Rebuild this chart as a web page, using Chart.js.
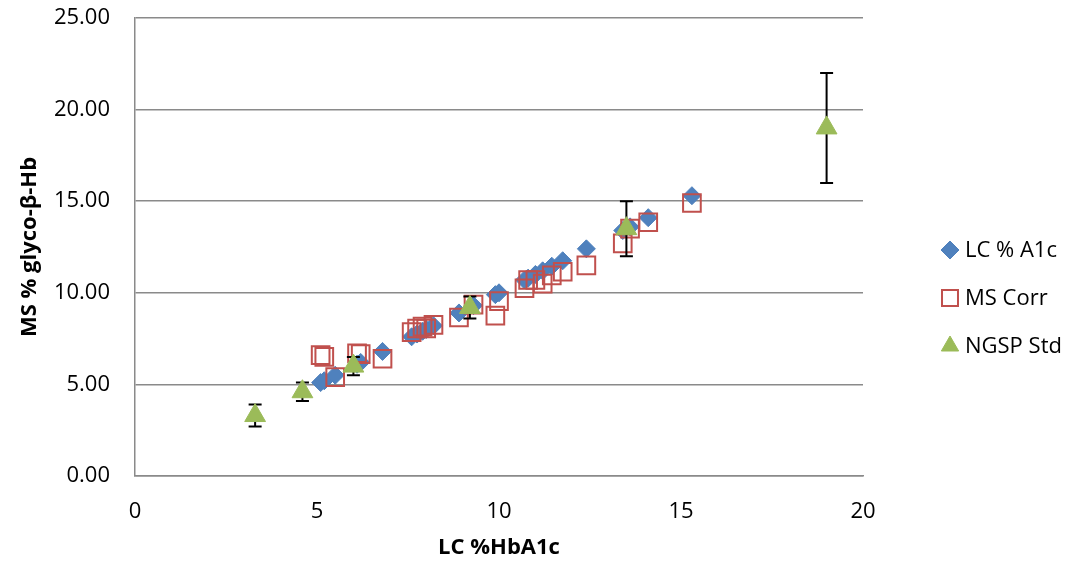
<!DOCTYPE html>
<html>
<head>
<meta charset="utf-8">
<script src="https://cdn.jsdelivr.net/npm/chart.js@4/dist/chart.umd.min.js"></script>
<style>
    html, body { margin: 0; padding: 0; background: #fff; }
    #wrap { position: relative; width: 1081px; height: 563px; }
</style>
</head>
<body>
<div id="wrap"><canvas id="scatterChart"></canvas></div>
<script>
// LC %HbA1c of each sample (x) and the LC % A1c result (plotted against itself)
const lcHbA1c = [5.1, 5.2, 5.5, 6.1, 6.2, 6.8, 7.6, 7.75, 7.9, 8.0, 8.2, 8.9, 9.3, 9.9, 10.0,
                 10.7, 10.8, 11.0, 11.2, 11.45, 11.75, 12.4, 13.4, 13.6, 14.1, 15.3];
const lcA1c   = [5.1, 5.2, 5.5, 6.1, 6.2, 6.8, 7.6, 7.75, 7.9, 8.0, 8.2, 8.9, 9.3, 9.9, 10.0,
                 10.7, 10.8, 11.0, 11.2, 11.45, 11.75, 12.4, 13.4, 13.6, 14.1, 15.3];
// corrected MS % glyco-beta-Hb for the same samples
const msCorr  = [6.6, 6.5, 5.4, 6.7, 6.65, 6.4, 7.85, 8.05, 8.15, 8.05, 8.25, 8.65, 9.35, 8.75, 9.55,
                 10.25, 10.7, 10.7, 10.5, 10.95, 11.15, 11.5, 12.7, 13.5, 13.85, 14.9];
// NGSP standards with their allowed range
const ngspX   = [3.3, 4.6, 6.0, 9.2, 13.5, 19.0];
const ngspY   = [3.3, 4.6, 6.0, 9.2, 13.5, 19.0];
const ngspErr = [0.6, 0.5, 0.5, 0.6, 1.5, 3.0];

const xTicks = [0, 5, 10, 15, 20];
const yTicks = [0, 5, 10, 15, 20, 25];

const toPoints = (xs, ys) => xs.map((v, i) => ({ x: v, y: ys[i] }));

Chart.defaults.font.family = '"Open Sans", sans-serif';
Chart.defaults.color = '#000';

// black +/- bars under the NGSP triangles
const errorBars = {
    id: 'errorBars',
    beforeDatasetDraw(chart, args) {
        if (args.index !== 2) return;
        const { ctx, scales: { x, y } } = chart;
        ctx.save();
        ctx.strokeStyle = '#000';
        ctx.lineWidth = 2;
        ngspX.forEach((v, i) => {
            const px = x.getPixelForValue(v);
            const top = y.getPixelForValue(ngspY[i] + ngspErr[i]);
            const bot = y.getPixelForValue(ngspY[i] - ngspErr[i]);
            ctx.beginPath();
            ctx.moveTo(px, top); ctx.lineTo(px, bot);
            ctx.moveTo(px - 6.5, top); ctx.lineTo(px + 6.5, top);
            ctx.moveTo(px - 6.5, bot); ctx.lineTo(px + 6.5, bot);
            ctx.stroke();
        });
        ctx.restore();
    }
};

// legend on the right, one row per series
const legendRadius = [9, 11.3, 10];
const sideLegend = {
    id: 'sideLegend',
    afterDraw(chart) {
        const ctx = chart.ctx;
        const left = chart.chartArea.right + 87;
        chart.data.datasets.forEach((ds, i) => {
            const cy = 250 + i * 48;
            ctx.save();
            ctx.fillStyle = ds.backgroundColor;
            ctx.strokeStyle = ds.borderColor;
            ctx.lineWidth = ds.borderWidth;
            Chart.helpers.drawPoint(ctx, {
                pointStyle: ds.pointStyle, radius: legendRadius[i], rotation: 0, borderWidth: ds.borderWidth
            }, left, cy);
            ctx.fillStyle = '#000';
            ctx.font = '22px "Open Sans"';
            ctx.textBaseline = 'middle';
            ctx.textAlign = 'left';
            ctx.fillText(ds.label, left + 15, cy + 1);
            ctx.restore();
        });
    }
};

new Chart(document.getElementById('scatterChart'), {
    type: 'scatter',
    data: {
        datasets: [{
            label: 'LC % A1c',
            data: toPoints(lcHbA1c, lcA1c),
            pointStyle: 'rectRot',
            pointRadius: 9,
            backgroundColor: '#4F81BD',
            borderColor: '#4F81BD',
            borderWidth: 1,
            order: 2
        }, {
            label: 'MS Corr',
            data: toPoints(lcHbA1c, msCorr),
            pointStyle: 'rect',
            pointRadius: 12.5,
            backgroundColor: 'rgba(0,0,0,0)',
            borderColor: '#C0504D',
            borderWidth: 2,
            order: 1
        }, {
            label: 'NGSP Std',
            data: toPoints(ngspX, ngspY),
            pointStyle: 'triangle',
            pointRadius: 12,
            backgroundColor: '#9BBB59',
            borderColor: '#9BBB59',
            borderWidth: 1,
            order: 0
        }]
    },
    options: {
        responsive: true,
        maintainAspectRatio: false,
        animation: false,
        layout: { padding: { top: 18, right: 218, bottom: 0, left: 0 } },
        plugins: { legend: { display: false }, tooltip: { enabled: false } },
        scales: {
            x: {
                type: 'linear',
                min: 0, max: 20,
                afterFit: s => { s.height = 87; s.paddingLeft = 0; s.paddingRight = 0; },
                afterBuildTicks: s => { s.ticks = xTicks.map(v => ({ value: v })); },
                grid: { display: false, drawTicks: false },
                border: { display: true, color: '#8a8a8a', width: 1.5 },
                ticks: { padding: 23, font: { size: 22 }, callback: v => v },
                title: {
                    display: true, text: 'LC %HbA1c',
                    font: { size: 22, weight: 'bold' },
                    padding: { top: 0, bottom: 2 }
                }
            },
            y: {
                type: 'linear',
                min: 0, max: 25,
                afterFit: s => { s.width = 135; s.paddingTop = 0; s.paddingBottom = 0; },
                afterBuildTicks: s => { s.ticks = yTicks.map(v => ({ value: v })); },
                grid: { color: '#8a8a8a', lineWidth: 1.5, drawTicks: false },
                border: { display: true, color: '#8a8a8a', width: 1.5 },
                ticks: { padding: 25, font: { size: 22 }, callback: v => v.toFixed(2) },
                title: {
                    display: true, text: 'MS % glyco-β-Hb',
                    font: { size: 22, weight: 'bold' },
                    padding: { top: 17, bottom: 0 }
                }
            }
        }
    },
    plugins: [errorBars, sideLegend]
});
</script>
</body>
</html>
